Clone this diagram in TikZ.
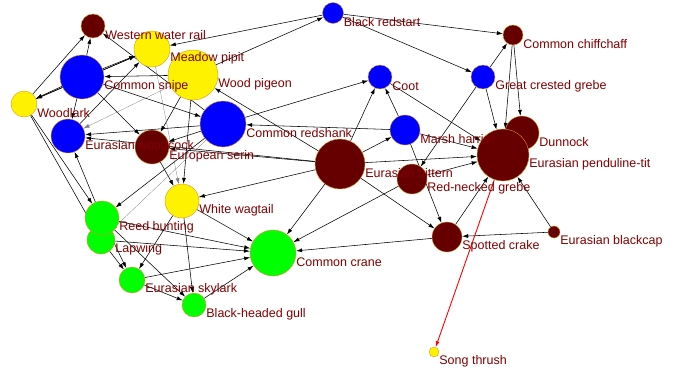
\documentclass[tikz,border=0pt]{standalone}
\usepackage{fontspec}
\setmainfont{Liberation Sans}
\usetikzlibrary{positioning,arrows.meta}
\definecolor{brd}{RGB}{102,0,0}
\definecolor{lbl}{RGB}{128,0,0}
\definecolor{rim}{RGB}{214,150,40}
\pgfdeclarelayer{bg}
\pgfsetlayers{bg,main}

\begin{document}
\begin{tikzpicture}[x=1pt,y=-1pt,>={Latex[length=6pt,width=4pt]},
    bird/.style={circle,draw=rim,line width=0.4pt,inner sep=0pt},
    txt/.style={text=lbl,font=\fontsize{12.5}{13}\selectfont,inner sep=0pt},
    edge/.style={->,line width=0.55pt},
    faint/.style={->,line width=0.3pt,gray}]
  \useasboundingbox (0,0) rectangle (678,370);

  % birds
  \node[bird,fill=brd,minimum size=24pt](WWR) at (93,26) {};
  \node[bird,fill=yellow,minimum size=36pt](MP) at (152,49) {};
  \node[bird,fill=yellow,minimum size=50pt](WP) at (193,75) {};
  \node[bird,fill=blue,minimum size=44pt](CS) at (82,77) {};
  \node[bird,fill=yellow,minimum size=26pt](WL) at (24,104) {};
  \node[bird,fill=blue,minimum size=34pt](EW) at (68,136) {};
  \node[bird,fill=brd,minimum size=34pt](ES) at (152,147) {};
  \node[bird,fill=blue,minimum size=46pt](CR) at (223,124) {};
  \node[bird,fill=yellow,minimum size=34pt](WW) at (182,201) {};
  \node[bird,fill=green,minimum size=28pt](LW) at (101,240) {};
  \node[bird,fill=green,minimum size=34pt](RB) at (102,218) {};
  \node[bird,fill=green,minimum size=26pt](ESK) at (132,280) {};
  \node[bird,fill=green,minimum size=24pt](BHG) at (194,305) {};
  \node[bird,fill=green,minimum size=46pt](CC) at (273,253) {};
  \node[bird,fill=blue,minimum size=21pt](BR) at (333,13) {};
  \node[bird,fill=blue,minimum size=24pt](Coot) at (380,77) {};
  \node[bird,fill=blue,minimum size=30pt](MH) at (405,130) {};
  \node[bird,fill=brd,minimum size=50pt](EB) at (340,164) {};
  \node[bird,fill=brd,minimum size=30pt](RNG) at (412,179) {};
  \node[bird,fill=brd,minimum size=30pt](SC) at (447,237) {};
  \node[bird,fill=brd,minimum size=12pt](EBC) at (554,232) {};
  \node[bird,fill=yellow,minimum size=10pt](ST) at (434,352) {};
  \node[bird,fill=brd,minimum size=20pt](CCh) at (513,35) {};
  \node[bird,fill=blue,minimum size=24pt](GCG) at (483,77) {};
  \node[bird,fill=brd,minimum size=34pt](DN) at (522,133) {};
  \node[bird,fill=brd,minimum size=52pt](EPT) at (503,155) {};

  % names
  \node[txt,right=0pt of WWR.east,yshift=-9pt](WWRt) {Western water rail};
  \node[txt,right=0pt of MP.east,yshift=-9pt](MPt) {Meadow pipit};
  \node[txt,right=0pt of WP.east,yshift=-9pt](WPt) {Wood pigeon};
  \node[txt,right=0pt of CS.east,yshift=-9pt](CSt) {Common snipe};
  \node[txt,right=0pt of WL.east,yshift=-9pt](WLt) {Woodlark};
  \node[txt,right=0pt of EW.east,yshift=-9pt](EWt) {Eurasian woodcock};
  \node[txt,right=0pt of ES.east,yshift=-9pt](ESt) {European serin};
  \node[txt,right=0pt of CR.east,yshift=-9pt](CRt) {Common redshank};
  \node[txt,right=0pt of WW.east,yshift=-9pt](WWt) {White wagtail};
  \node[txt,right=0pt of RB.east,yshift=-9pt](RBt) {Reed bunting};
  \node[txt,right=0pt of LW.east,yshift=-9pt](LWt) {Lapwing};
  \node[txt,right=0pt of ESK.east,yshift=-9pt](ESKt) {Eurasian skylark};
  \node[txt,right=0pt of BHG.east,yshift=-9pt](BHGt) {Black-headed gull};
  \node[txt,right=0pt of CC.east,yshift=-9pt](CCt) {Common crane};
  \node[txt,right=0pt of BR.east,yshift=-9pt](BRt) {Black redstart};
  \node[txt,right=0pt of Coot.east,yshift=-9pt](Coott) {Coot};
  \node[txt,right=0pt of MH.east,yshift=-9pt](MHt) {Marsh harrier};
  \node[txt,right=0pt of EB.east,yshift=-9pt](EBt) {Eurasian bittern};
  \node[txt,right=0pt of RNG.east,yshift=-9pt](RNGt) {Red-necked grebe};
  \node[txt,right=0pt of SC.east,yshift=-9pt](SCt) {Spotted crake};
  \node[txt,right=0pt of EBC.east,yshift=-9pt](EBCt) {Eurasian blackcap};
  \node[txt,right=0pt of ST.east,yshift=-9pt](STt) {Song thrush};
  \node[txt,right=0pt of CCh.east,yshift=-9pt](CCht) {Common chiffchaff};
  \node[txt,right=0pt of GCG.east,yshift=-9pt](GCGt) {Great crested grebe};
  \node[txt,right=0pt of DN.east,yshift=-9pt](DNt) {Dunnock};
  \node[txt,right=0pt of EPT.east,yshift=-9pt](EPTt) {Eurasian penduline-tit};

  \begin{pgfonlayer}{bg}
    % left group
    \draw[edge] (WL) -- (WWR);
    \draw[edge] (CS) -- (WWR);
    \draw[edge] (CR) -- (WWR);
    \draw[edge] (BR) -- (MP);
    \draw[edge] (WP) -- (BR);
    \draw[edge] (CS) -- (MP);
    \draw[edge] (WL) -- (MP);
    \draw[edge] (WP) -- (CS);
    \draw[edge] (CS) -- (WL);
    \draw[edge] (MP) -- (WL);
    \draw[edge] (CS) -- (EW);
    \draw[edge] (EW) -- (MP);
    \draw[edge] (CS) -- (ES);
    \draw[edge] (WP) -- (ES);
    \draw[edge] (ES) -- (WW);
    \draw[edge] (WP) -- (WW);
    \draw[faint] (MP) -- (WW);
    \draw[faint] (WP) -- (EW);
    \draw[faint] (CR) -- (LW);
    \draw[edge] (CR) -- (ES);
    \draw[edge] (CR) -- (EW);
    \draw[edge] (EB) -- (EW);
    \draw[edge] (EB) -- (ES);
    \draw[edge] (CS) -- (CR);
    \draw[edge] (WL) -- (RB);
    \draw[edge] (WL) -- (LW);
    \draw[edge] (RB) -- (EW);
    \draw[edge] (CR) -- (RB);
    \draw[edge] (EB) -- (WP);
    \draw[edge] (EB) -- (WW);
    % lower group
    \draw[edge] (WW) -- (CC);
    \draw[edge] (RB) -- (CC);
    \draw[edge] (LW) -- (CC);
    \draw[edge] (ESK) -- (CC);
    \draw[edge] (BHG) -- (CC);
    \draw[edge] (RB) -- (BHG);
    \draw[edge] (LW) -- (ESK);
    \draw[edge] (RB) -- (ESK);
    \draw[edge] (WW) -- (ESK);
    \draw[edge] (WW) -- (BHG);
    \draw[edge] (ESK) -- (BHG);
    \draw[edge] (EB) -- (CC);
    \draw[edge] (RNG) -- (CC);
    \draw[edge] (SC) -- (CC);
    % right group
    \draw[edge] (BR) -- (CCh);
    \draw[edge] (BR) -- (GCG);
    \draw[edge] (GCG) -- (CCh);
    \draw[edge] (GCG) -- (RNG);
    \draw[edge] (GCG) -- (EPT);
    \draw[edge] (CCh) -- (DN);
    \draw[edge] (CCh) -- (EPT);
    \draw[edge] (Coot) -- (EPT);
    \draw[edge] (EBC) -- (EPT);
    \draw[edge] (EBC) -- (SC);
    \draw[edge] (SC) -- (EPT);
    \draw[edge] (MH) -- (SC);
    \draw[edge] (EB) -- (SC);
    \draw[edge] (EB) -- (MH);
    \draw[edge] (EB) -- (Coot);
    \draw[edge] (MH) -- (Coot);
    \draw[edge] (MH) -- (CR);
    \draw[edge] (CR) -- (Coot);
    \draw[edge] (EB) -- (EPT);
    \draw[edge] (MH) -- (EPT);
    \draw[edge] (RNG) -- (EPT);
    \draw[edge,red,line width=0.9pt] (EPT) -- (ST);
  \end{pgfonlayer}
\end{tikzpicture}
\end{document}
